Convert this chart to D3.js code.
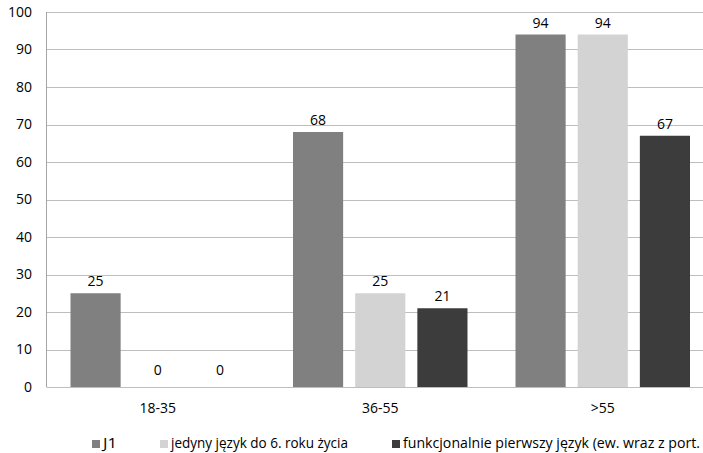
<!DOCTYPE html>
<html><head><meta charset="utf-8">
<script src="https://cdn.jsdelivr.net/npm/d3@7"></script>
<style>body{margin:0;background:#fff}svg{display:block;font-family:"Open Sans",sans-serif}</style>
</head><body><svg width="703" height="453"></svg>
<script>
const categories = ['18-35', '36-55', '>55'];
const seriesNames = ['J1', 'jedyny język do 6. roku życia', 'funkcjonalnie pierwszy język (ew. wraz z port.'];
const j1 = [25, 68, 94];
const jedyny = [0, 25, 94];
const funkcjonalnie = [0, 21, 67];
const yTicks = [0, 10, 20, 30, 40, 50, 60, 70, 80, 90, 100];
const colors = ['#808080', '#d3d3d3', '#3c3c3c'];

const series = [j1, jedyny, funkcjonalnie];
const svg = d3.select('svg');
const plotLeft = 46.5, plotTop = 12, plotBottom = 387, bandW = 222.5;
const x = d3.scaleBand().domain(categories).range([plotLeft, plotLeft + bandW * 3]);
const xs = d3.scaleBand().domain(d3.range(3)).range([24, bandW - 24]).paddingInner(12 / 62);
const y = d3.scaleLinear().domain([0, 100]).range([plotBottom, plotTop]);

// gridlines
svg.append('g').selectAll('line').data(yTicks).join('line')
  .attr('x1', plotLeft).attr('x2', 703)
  .attr('y1', d => Math.round(y(d)) + 0.5).attr('y2', d => Math.round(y(d)) + 0.5)
  .attr('stroke', '#bebebe').attr('stroke-width', 1);
svg.append('line').attr('x1', plotLeft).attr('x2', plotLeft).attr('y1', plotTop).attr('y2', plotBottom)
  .attr('stroke', '#a6a6a6');

// y labels
svg.append('g').selectAll('text').data(yTicks).join('text')
  .attr('x', 32).attr('y', d => y(d)).attr('dy', '0.35em')
  .attr('text-anchor', 'end').attr('font-size', 14).attr('fill', '#000').text(d => d);

// bars
categories.forEach((c, ci) => {
  series.forEach((s, si) => {
    const v = s[ci];
    const bx = x(c) + xs(si);
    svg.append('rect').attr('x', bx).attr('width', xs.bandwidth())
      .attr('y', y(v)).attr('height', plotBottom - y(v)).attr('fill', colors[si]);
    svg.append('text').attr('x', bx + xs.bandwidth() / 2).attr('y', Math.min(y(v) - 7, plotBottom - 12))
      .attr('text-anchor', 'middle').attr('font-size', 14).attr('fill', '#000').text(v);
  });
  svg.append('text').attr('x', x(c) + bandW / 2).attr('y', 408).attr('dy', '0.35em')
    .attr('text-anchor', 'middle').attr('font-size', 14).text(c);
});

// legend
const legX = [92, 160, 392];
const legLen = [14, 177, 297];
seriesNames.forEach((n, i) => {
  svg.append('rect').attr('x', legX[i]).attr('y', 440).attr('width', 8).attr('height', 8).attr('fill', colors[i]);
  svg.append('text').attr('x', legX[i] + 11).attr('y', 448)
    .attr('font-size', 14).attr('textLength', legLen[i]).attr('lengthAdjust', 'spacingAndGlyphs').text(n);
});
</script></body></html>
